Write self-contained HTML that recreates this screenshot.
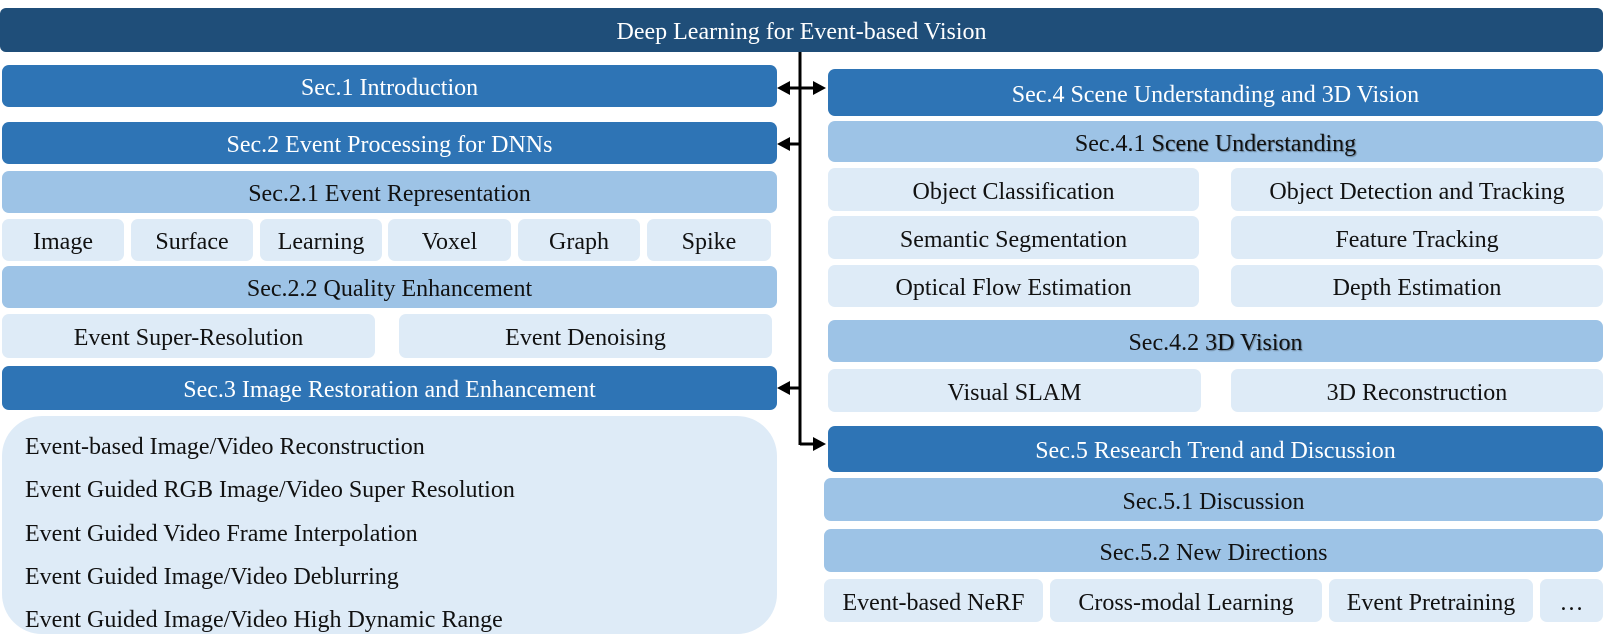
<!DOCTYPE html>
<html><head><meta charset="utf-8"><style>
body{margin:0;width:1611px;height:644px;background:#fff;position:relative;overflow:hidden;font-family:"Liberation Serif",serif;font-size:24px;}
.b{position:absolute;display:flex;align-items:center;justify-content:center;border-radius:7px;box-sizing:border-box;color:#111;white-space:nowrap;padding-top:5px}
.t{background:#1f4e79;color:#fff;border-radius:6px}
.d{background:#2e74b5;color:#fff}
.m{background:#9dc3e6}
.l{background:#deebf7}
.sh{text-shadow:1px 1px 1px rgba(0,0,0,.35)}
</style></head><body>
<div class="b t" style="left:0;top:8px;width:1603px;height:44px">Deep Learning for Event-based Vision</div>

<div class="b d" style="left:2px;top:65px;width:775px;height:42px">Sec.1 Introduction</div>
<div class="b d" style="left:2px;top:122px;width:775px;height:42px">Sec.2 Event Processing for DNNs</div>
<div class="b m" style="left:2px;top:171px;width:775px;height:42px">Sec.2.1 Event Representation</div>
<div class="b l" style="left:2px;top:219px;width:122px;height:42px">Image</div>
<div class="b l" style="left:131px;top:219px;width:122px;height:42px">Surface</div>
<div class="b l" style="left:260px;top:219px;width:122px;height:42px">Learning</div>
<div class="b l" style="left:388px;top:219px;width:123px;height:42px">Voxel</div>
<div class="b l" style="left:518px;top:219px;width:122px;height:42px">Graph</div>
<div class="b l" style="left:647px;top:219px;width:124px;height:42px">Spike</div>
<div class="b m" style="left:2px;top:266px;width:775px;height:42px">Sec.2.2 Quality Enhancement</div>
<div class="b l" style="left:2px;top:314px;width:373px;height:44px">Event Super-Resolution</div>
<div class="b l" style="left:399px;top:314px;width:373px;height:44px">Event Denoising</div>
<div class="b d" style="left:2px;top:366px;width:775px;height:44px">Sec.3 Image Restoration and Enhancement</div>
<div class="b l" style="left:2px;top:416px;width:775px;height:218px;border-radius:40px"></div>
<div style="position:absolute;left:25px;top:426px;line-height:43.3px;color:#111">
Event-based Image/Video Reconstruction<br>Event Guided RGB Image/Video Super Resolution<br>Event Guided Video Frame Interpolation<br>Event Guided Image/Video Deblurring<br>Event Guided Image/Video High Dynamic Range</div>

<div class="b d" style="left:828px;top:69px;width:775px;height:47px">Sec.4 Scene Understanding and 3D Vision</div>
<div class="b m" style="left:828px;top:121px;width:775px;height:41px">Sec.4.1&nbsp;<span class="sh">Scene Understanding</span></div>
<div class="b l" style="left:828px;top:168px;width:371px;height:43px">Object Classification</div>
<div class="b l" style="left:1231px;top:168px;width:372px;height:43px">Object Detection and Tracking</div>
<div class="b l" style="left:828px;top:216px;width:371px;height:43px">Semantic Segmentation</div>
<div class="b l" style="left:1231px;top:216px;width:372px;height:43px">Feature Tracking</div>
<div class="b l" style="left:828px;top:265px;width:371px;height:42px">Optical Flow Estimation</div>
<div class="b l" style="left:1231px;top:265px;width:372px;height:42px">Depth Estimation</div>
<div class="b m" style="left:828px;top:320px;width:775px;height:42px">Sec.4.2&nbsp;<span class="sh">3D Vision</span></div>
<div class="b l" style="left:828px;top:369px;width:373px;height:43px">Visual SLAM</div>
<div class="b l" style="left:1231px;top:369px;width:372px;height:43px">3D Reconstruction</div>
<div class="b d" style="left:828px;top:426px;width:775px;height:46px">Sec.5 Research Trend and Discussion</div>
<div class="b m" style="left:824px;top:478px;width:779px;height:43px">Sec.5.1 Discussion</div>
<div class="b m" style="left:824px;top:529px;width:779px;height:43px">Sec.5.2 New Directions</div>
<div class="b l" style="left:824px;top:579px;width:219px;height:43px">Event-based NeRF</div>
<div class="b l" style="left:1050px;top:579px;width:272px;height:43px">Cross-modal Learning</div>
<div class="b l" style="left:1329px;top:579px;width:204px;height:43px">Event Pretraining</div>
<div class="b l" style="left:1540px;top:579px;width:63px;height:43px">…</div>

<svg style="position:absolute;left:0;top:0" width="1611" height="644">
<g stroke="#000" stroke-width="3" fill="none">
<line x1="800" y1="52" x2="800" y2="445"/>
<line x1="788" y1="88" x2="815" y2="88"/>
<line x1="790" y1="144" x2="800" y2="144"/>
<line x1="790" y1="388" x2="800" y2="388"/>
<line x1="800" y1="444" x2="815" y2="444"/>
</g>
<g fill="#000">
<polygon points="777,88 790,81 790,95"/>
<polygon points="826,88 813,81 813,95"/>
<polygon points="777,144 790,137 790,151"/>
<polygon points="777,388 790,381 790,395"/>
<polygon points="826,444 813,437 813,451"/>
</g>
</svg>
</body></html>
